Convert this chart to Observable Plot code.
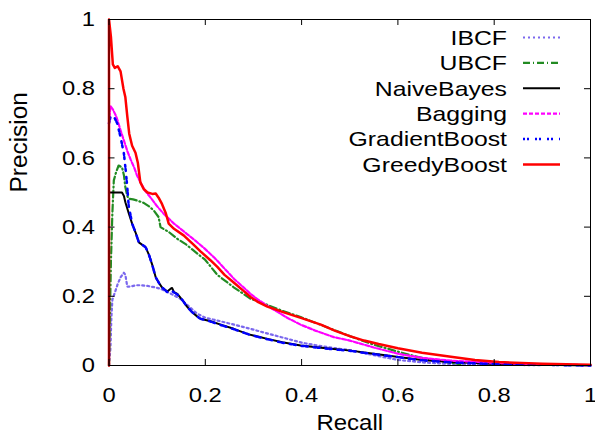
<!DOCTYPE html>
<html>
<head>
<meta charset="utf-8">
<script src="https://cdn.jsdelivr.net/npm/d3@7"></script>
<script src="https://cdn.jsdelivr.net/npm/@observablehq/plot@0.6"></script>
<style>
  html, body { margin: 0; padding: 0; background: #fff; }
  #chart { position: relative; width: 595px; height: 438px; }
</style>
</head>
<body>
<div id="chart"></div>
<script>
// ---- data (recall, precision) ----
const seriesNames = ["IBCF", "UBCF", "NaiveBayes", "Bagging", "GradientBoost", "GreedyBoost"];
const xTicks = [0, 0.2, 0.4, 0.6, 0.8, 1];
const yTicks = [0, 0.2, 0.4, 0.6, 0.8, 1];
const xTitle = "Recall";
const yTitle = "Precision";

const ibcf = [[0,0],[0.003,0.05],[0.005,0.14],[0.007,0.19],[0.012,0.21],[0.018,0.235],[0.024,0.255],[0.031,0.268],[0.034,0.262],[0.038,0.228],[0.045,0.228],[0.055,0.232],[0.065,0.232],[0.08,0.23],[0.095,0.226],[0.107,0.222],[0.125,0.21],[0.148,0.193],[0.165,0.172],[0.183,0.15],[0.2,0.138],[0.225,0.13],[0.26,0.118],[0.294,0.106],[0.33,0.092],[0.363,0.08],[0.4,0.066],[0.432,0.058],[0.47,0.05],[0.502,0.044],[0.55,0.03],[0.6,0.016],[0.65,0.009],[0.7,0.005],[0.8,0.002],[0.9,0.001]];

const ubcf = [[0,0],[0.004,0.3],[0.007,0.44],[0.01,0.535],[0.015,0.56],[0.02,0.578],[0.027,0.573],[0.031,0.55],[0.034,0.515],[0.038,0.49],[0.041,0.482],[0.05,0.48],[0.058,0.477],[0.072,0.47],[0.085,0.458],[0.093,0.448],[0.103,0.429],[0.107,0.40],[0.125,0.385],[0.142,0.366],[0.16,0.35],[0.176,0.332],[0.2,0.305],[0.225,0.262],[0.259,0.226],[0.294,0.193],[0.329,0.175],[0.36,0.158],[0.398,0.14],[0.45,0.112],[0.50,0.085],[0.55,0.06],[0.605,0.038],[0.65,0.022],[0.70,0.01],[0.73,0.004]];

const naiveBayes = [[0,0.5],[0.027,0.5],[0.031,0.49],[0.034,0.472],[0.041,0.44],[0.048,0.41],[0.055,0.385],[0.062,0.356],[0.07,0.348],[0.076,0.342],[0.083,0.32],[0.09,0.29],[0.097,0.255],[0.104,0.238],[0.11,0.226],[0.121,0.214],[0.128,0.222],[0.131,0.224],[0.135,0.212],[0.142,0.207],[0.152,0.19],[0.162,0.17],[0.172,0.155],[0.183,0.142],[0.19,0.135],[0.211,0.128],[0.232,0.118],[0.259,0.106],[0.29,0.09],[0.329,0.077],[0.36,0.067],[0.398,0.058],[0.45,0.05],[0.502,0.043],[0.55,0.034],[0.605,0.024],[0.65,0.016],[0.709,0.01],[0.8,0.005],[0.9,0.002],[1.0,0]];

const bagging = [[0,0.70],[0.003,0.75],[0.008,0.74],[0.015,0.72],[0.024,0.68],[0.031,0.65],[0.038,0.62],[0.045,0.595],[0.052,0.573],[0.058,0.55],[0.065,0.53],[0.075,0.505],[0.086,0.486],[0.1,0.46],[0.114,0.438],[0.135,0.41],[0.162,0.38],[0.18,0.36],[0.197,0.34],[0.22,0.31],[0.24,0.28],[0.26,0.25],[0.28,0.225],[0.294,0.207],[0.31,0.19],[0.329,0.172],[0.35,0.155],[0.37,0.138],[0.398,0.118],[0.43,0.1],[0.467,0.082],[0.50,0.072],[0.55,0.052],[0.60,0.034],[0.65,0.022],[0.71,0.014],[0.81,0.007],[0.9,0.003],[1.0,0.001]];

const gradientBoost = [[0,0.70],[0.003,0.718],[0.01,0.72],[0.017,0.70],[0.024,0.66],[0.031,0.612],[0.035,0.56],[0.038,0.515],[0.041,0.46],[0.044,0.44],[0.048,0.41],[0.055,0.385],[0.062,0.356],[0.07,0.348],[0.076,0.342],[0.083,0.32],[0.09,0.29],[0.097,0.255],[0.104,0.238],[0.11,0.226],[0.121,0.212],[0.131,0.215],[0.142,0.205],[0.152,0.19],[0.162,0.17],[0.172,0.155],[0.183,0.142],[0.19,0.135],[0.211,0.127],[0.232,0.117],[0.259,0.105],[0.29,0.09],[0.329,0.076],[0.36,0.066],[0.398,0.057],[0.45,0.049],[0.502,0.042],[0.55,0.033],[0.605,0.023],[0.65,0.015],[0.709,0.009],[0.8,0.004],[0.9,0.002],[1.0,0]];

const greedyBoost = [[0,0],[0,1.0],[0.004,0.95],[0.008,0.87],[0.012,0.86],[0.018,0.865],[0.024,0.85],[0.03,0.80],[0.034,0.775],[0.038,0.72],[0.042,0.67],[0.048,0.635],[0.055,0.615],[0.06,0.585],[0.065,0.53],[0.072,0.51],[0.08,0.50],[0.09,0.496],[0.097,0.497],[0.103,0.485],[0.11,0.467],[0.118,0.44],[0.124,0.41],[0.135,0.395],[0.155,0.376],[0.175,0.35],[0.19,0.33],[0.21,0.305],[0.225,0.285],[0.24,0.262],[0.259,0.24],[0.28,0.215],[0.294,0.198],[0.31,0.183],[0.329,0.17],[0.36,0.155],[0.40,0.137],[0.44,0.118],[0.47,0.1],[0.50,0.085],[0.53,0.072],[0.56,0.062],[0.60,0.05],[0.65,0.037],[0.71,0.025],[0.76,0.016],[0.81,0.01],[0.9,0.005],[1.0,0.002]];

const seriesData = [ibcf, ubcf, naiveBayes, bagging, gradientBoost, greedyBoost];
const seriesColors = ["#7b68ee", "#228b22", "#000000", "#ff00ff", "#0000ff", "#ff0000"];
const seriesDash = ["2,3", "7,3,1,3", null, "4,2", "2,2,2,6", null];
const seriesWidth = [2.2, 2.2, 2, 2.2, 2.5, 2.5];

// ---- layout ----
const W = 595, H = 438;
const mL = 108.5, mR = 5, mT = 19, mB = 73;
const FONT = "'Liberation Sans', Arial, sans-serif";
const tickLen = 6;
const frameW = W - mL - mR, frameH = H - mT - mB;

const lineMarks = seriesData.map((d, i) => Plot.line(d, {
  x: p => p[0], y: p => p[1],
  stroke: seriesColors[i],
  strokeWidth: seriesWidth[i],
  strokeDasharray: seriesDash[i],
  strokeLinejoin: "round",
  curve: "linear"
}));

const chart = Plot.plot({
  width: W, height: H,
  marginLeft: mL, marginRight: mR, marginTop: mT, marginBottom: mB,
  style: { fontFamily: FONT, fontSize: "21px", background: "#fff", color: "#000" },
  x: { domain: [0, 1] },
  y: { domain: [0, 1] },
  marks: [
    ...lineMarks,
    Plot.frame({ stroke: "#000", strokeWidth: 1 }),
    // inward ticks on all four sides
    Plot.tickX(xTicks, { x: d => d, insetTop: frameH - tickLen, stroke: "#000" }),
    Plot.tickX(xTicks, { x: d => d, insetBottom: frameH - tickLen, stroke: "#000" }),
    Plot.tickY(yTicks, { y: d => d, insetRight: frameW - tickLen, stroke: "#000" }),
    Plot.tickY(yTicks, { y: d => d, insetLeft: frameW - tickLen, stroke: "#000" }),
    Plot.axisX({ ticks: xTicks, tickSize: 0, tickPadding: 22, label: null, fontSize: 21, tickFormat: d => String(d) }),
    Plot.axisY({ ticks: yTicks, tickSize: 0, tickPadding: 14, label: null, fontSize: 21, tickFormat: d => String(d) }),
    Plot.text([xTitle], { text: d => d, frameAnchor: "bottom", dy: 64, fontSize: 22 }),
    Plot.text([yTitle], { text: d => d, frameAnchor: "left", dx: -89.5, rotate: -90, fontSize: 23 })
  ]
});

document.getElementById("chart").appendChild(chart);

// ---- legend (inside frame, top right) ----
const svg = d3.select(chart);
const lg = svg.append("g").attr("class", "legend").attr("font-family", FONT).attr("font-size", 21);
const textRight = 507, lineX1 = 523, lineX2 = 560, row0 = 37.5, rowStep = 25.4;
seriesNames.forEach((name, i) => {
  const y = row0 + i * rowStep;
  lg.append("text").attr("x", textRight).attr("y", y).attr("dy", "0.35em")
    .attr("text-anchor", "end").attr("fill", "#000").text(name);
  lg.append("line").attr("x1", lineX1).attr("x2", lineX2).attr("y1", y).attr("y2", y)
    .attr("stroke", seriesColors[i]).attr("stroke-width", seriesWidth[i])
    .attr("stroke-dasharray", seriesDash[i]);
});

// ---- widen glyphs horizontally like the reference's rendering ----
const stretch = { [xTitle]: 1.09, [yTitle]: 1.06 };
svg.selectAll("text").each(function () {
  const el = this;
  const inLegend = el.parentNode && el.parentNode.getAttribute("class") === "legend";
  const k = inLegend ? 1.18 : (stretch[el.textContent] || 1.13);
  const len = el.getComputedTextLength();
  if (len > 0) {
    el.setAttribute("textLength", (len * k).toFixed(2));
    el.setAttribute("lengthAdjust", "spacingAndGlyphs");
  }
});
</script>
</body>
</html>
